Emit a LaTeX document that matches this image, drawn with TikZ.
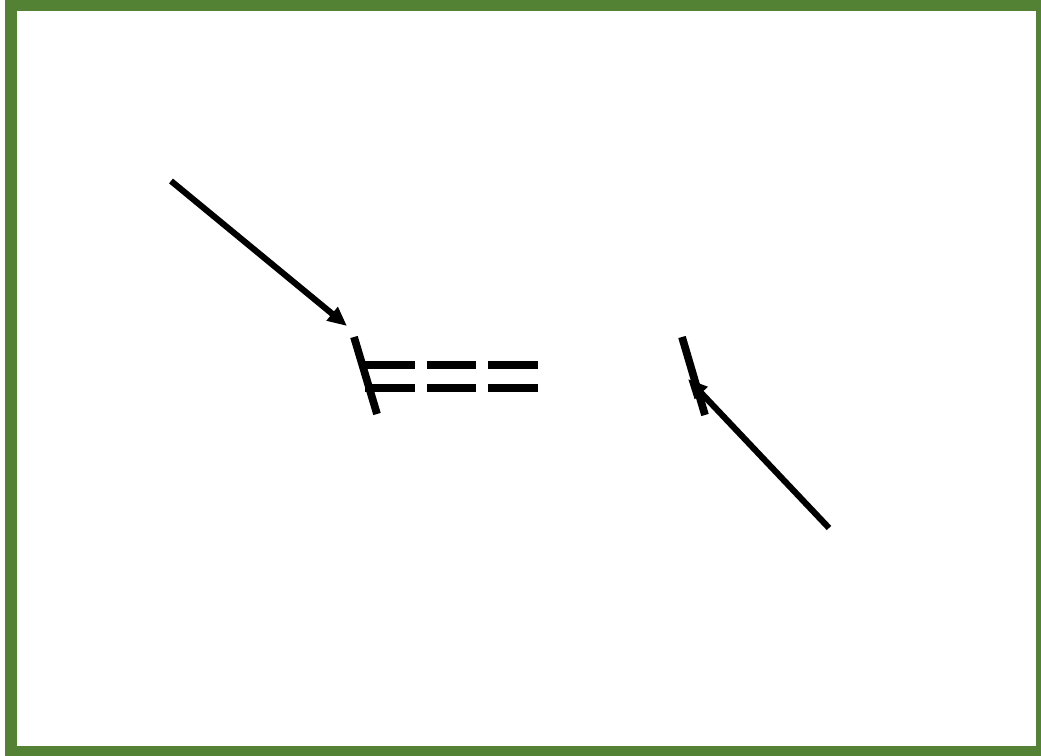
\documentclass[tikz,border=0pt]{standalone}
\usepackage{xcolor}
\usetikzlibrary{calc,arrows.meta}
\usetikzlibrary{positioning}
\definecolor{framegreen}{RGB}{84,130,53}

\begin{document}
\begin{tikzpicture}[x=0.02cm, y=-0.02cm,
  every path/.style={line cap=butt},
  wire/.style={draw=black, line width=4.4pt},
  ray/.style={draw=black, line width=3.5pt, -{Triangle[length=11pt,width=9.5pt]}},
  bond/.style={draw=black, line width=5pt, dash pattern=on 28.3pt off 6.8pt}
]
\useasboundingbox (0,0) rectangle (1041,756);

% Frame
\draw[framegreen, line width=6.8pt] (11,5) rectangle (1042,752);

% Coordinates
\coordinate (A1) at (171,181);
\coordinate (A2) at (347,326);
\coordinate (B1) at (829,528);
\coordinate (B2) at (688,379);

\coordinate (LT) at (354,337);
\coordinate (LB) at (377,414);
\coordinate (RT) at (682,337);
\coordinate (RB) at (705,415);

\coordinate (U1) at (365,365);
\coordinate (U2) at (541,365);
\coordinate (D1) at (365,388);
\coordinate (D2) at (541,388);

% ---- Plates ----
\draw[wire] (LT) -- (LB);
\draw[wire] (RT) -- (RB);

% ---- Bonds ----
\draw[bond] (U1) -- (U2);
\draw[bond] (D1) -- (D2);

% ---- Rays ----
\draw[ray] (A1) -- (A2);
\draw[ray] (B1) -- (B2);

\end{tikzpicture}
\end{document}
